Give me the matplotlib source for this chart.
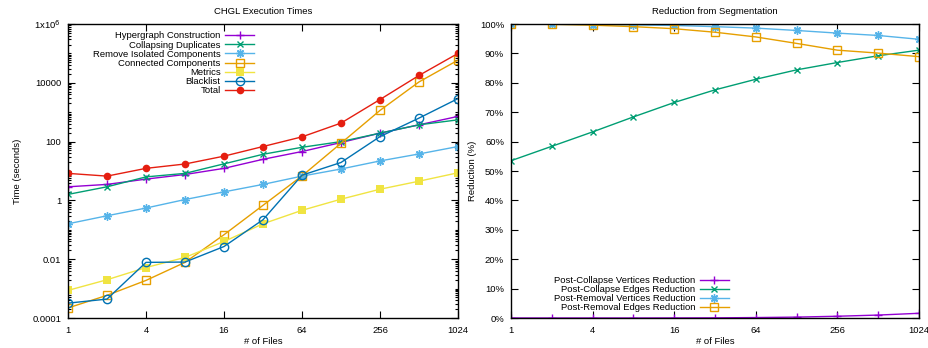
import matplotlib
matplotlib.use("Agg")
import matplotlib.pyplot as plt
import matplotlib.ticker as mticker
import numpy as np

plt.rcParams['font.family'] = ['Liberation Sans', 'DejaVu Sans']

files = [1, 2, 4, 8, 16, 32, 64, 128, 256, 512, 1024]
x_ticks = [1, 4, 16, 64, 256, 1024]
x_ticklabels = ["1", "4", "16", "64", "256", "1024"]

# Left panel: execution times (seconds)
hypergraph = [2.9, 3.5, 5.3, 7.6, 12.3, 25, 46, 93, 194, 372, 720]
collapsing = [1.6, 2.9, 6.3, 8.3, 17.5, 37, 64, 100, 194, 372, 550]
remove_isolated = [0.16, 0.30, 0.55, 1.07, 1.95, 3.5, 6.7, 11.7, 22, 38, 68]
connected = [0.00022, 0.00059, 0.0019, 0.0078, 0.068, 0.68, 6.8, 88, 1150, 10700, 59000]
metrics = [0.00087, 0.002, 0.0052, 0.0115, 0.04, 0.16, 0.46, 1.1, 2.4, 4.5, 8.7]
blacklist = [0.00032, 0.00044, 0.0078, 0.0080, 0.027, 0.22, 7.2, 19.5, 148, 630, 2900]
total = [8.3, 6.7, 12.3, 17.3, 32, 68, 145, 426, 2700, 17800, 100000]

left_y_ticks = [1e-4, 1e-2, 1, 1e2, 1e4, 1e6]
left_y_ticklabels = ["0.0001", "0.01", "1", "100", "10000", "1x10$^6$"]

# Right panel: reduction (%)
pc_vertices = [0.0, 0.0, 0.0, 0.0, 0.02, 0.05, 0.15, 0.3, 0.6, 1.0, 1.6]
pc_edges = [53.5, 58.4, 63.3, 68.4, 73.3, 77.6, 81.2, 84.4, 86.9, 89.2, 91.1]
pr_vertices = [100.0, 99.9, 99.8, 99.7, 99.5, 99.1, 98.6, 97.8, 96.9, 96.1, 94.8]
pr_edges = [100.0, 99.9, 99.6, 99.1, 98.4, 97.2, 95.6, 93.4, 91.1, 90.1, 88.9]

right_y_ticks = list(range(0, 101, 10))
right_y_ticklabels = [f"{v}%" for v in right_y_ticks]

C_PURPLE = "#9400d3"
C_GREEN = "#009e73"
C_LBLUE = "#56b4e9"
C_ORANGE = "#e69f00"
C_YELLOW = "#f0e442"
C_BLUE = "#0072b2"
C_RED = "#e51e10"

STAR = (8, 2, 0)
FS = 6.8

fig = plt.figure(figsize=(9.29, 3.48), dpi=100)
ax1 = fig.add_axes([68/929, 1-318/348, (458-68)/929, (318-24)/348])
ax2 = fig.add_axes([511/929, 1-318/348, (919-511)/929, (318-24)/348])

lw = 1.0
ms = 6
ax1.plot(files, hypergraph, color=C_PURPLE, marker='+', lw=lw, ms=ms, mew=1, label="Hypergraph Construction")
ax1.plot(files, collapsing, color=C_GREEN, marker='x', lw=lw, ms=ms-1, mew=1, label="Collapsing Duplicates")
ax1.plot(files, remove_isolated, color=C_LBLUE, marker=STAR, lw=lw, ms=ms, mew=1, label="Remove Isolated Components")
ax1.plot(files, connected, color=C_ORANGE, marker='s', mfc='none', lw=lw, ms=ms, mew=1, label="Connected Components")
ax1.plot(files, metrics, color=C_YELLOW, marker='s', lw=lw, ms=ms-0.5, mew=0, label="Metrics")
ax1.plot(files, blacklist, color=C_BLUE, marker='o', mfc='none', lw=lw, ms=ms, mew=1, label="Blacklist")
ax1.plot(files, total, color=C_RED, marker='o', lw=lw, ms=ms-0.5, mew=0, label="Total")

ax1.set_xscale('log', base=2)
ax1.set_yscale('log')
ax1.set_xlim(1, 1024)
ax1.set_ylim(1e-4, 1e6)
ax1.set_xticks(x_ticks)
ax1.set_xticklabels(x_ticklabels)
ax1.xaxis.set_minor_locator(mticker.NullLocator())
ax1.set_yticks(left_y_ticks)
ax1.set_yticklabels(left_y_ticklabels)
minor = [m * 10.0**k for k in range(-4, 6) for m in range(1, 10)
         if not (m == 1 and k % 2 == 0)]
ax1.yaxis.set_minor_locator(mticker.FixedLocator(minor))
ax1.yaxis.set_minor_formatter(mticker.NullFormatter())
ax1.set_title("CHGL Execution Times", fontsize=FS, pad=7)
ax1.set_xlabel("# of Files", fontsize=FS, labelpad=1.5)
ax1.set_ylabel("Time (seconds)", fontsize=FS, labelpad=7.5)

leg1 = ax1.legend(loc='upper left', bbox_to_anchor=(0.064, 0.975), markerfirst=False, frameon=False,
                  fontsize=FS, handlelength=3.0, handletextpad=0.5, labelspacing=0.02,
                  borderaxespad=0.0, borderpad=0.0)
for t in leg1.get_texts():
    t.set_ha('right')
leg1._legend_box.align = "right"

ax2.plot(files, pc_vertices, color=C_PURPLE, marker='+', lw=lw, ms=ms, mew=1, label="Post-Collapse Vertices Reduction")
ax2.plot(files, pc_edges, color=C_GREEN, marker='x', lw=lw, ms=ms-1, mew=1, label="Post-Collapse Edges Reduction")
ax2.plot(files, pr_vertices, color=C_LBLUE, marker=STAR, lw=lw, ms=ms, mew=1, label="Post-Removal Vertices Reduction")
ax2.plot(files, pr_edges, color=C_ORANGE, marker='s', mfc='none', lw=lw, ms=ms, mew=1, label="Post-Removal Edges Reduction")

ax2.set_xscale('log', base=2)
ax2.set_xlim(1, 1024)
ax2.set_ylim(0, 100)
ax2.set_xticks(x_ticks)
ax2.set_xticklabels(x_ticklabels)
ax2.xaxis.set_minor_locator(mticker.NullLocator())
ax2.set_yticks(right_y_ticks)
ax2.set_yticklabels(right_y_ticklabels)
ax2.set_title("Reduction from Segmentation", fontsize=FS, pad=7)
ax2.set_xlabel("# of Files", fontsize=FS, labelpad=1.5)
ax2.set_ylabel("Reduction (%)", fontsize=FS, labelpad=2.0)

leg2 = ax2.legend(loc='lower left', bbox_to_anchor=(0.105, 0.019), markerfirst=False, frameon=False,
                  fontsize=FS, handlelength=3.0, handletextpad=0.5, labelspacing=0.02,
                  borderaxespad=0.0, borderpad=0.0)
for t in leg2.get_texts():
    t.set_ha('right')
leg2._legend_box.align = "right"

for ax in (ax1, ax2):
    for s in ax.spines.values():
        s.set_linewidth(1.0)
        s.set_color('black')
    ax.tick_params(which='both', direction='in', top=True, right=True, labelsize=FS, width=0.8)
    ax.tick_params(axis='x', which='both', pad=6)
    ax.tick_params(axis='y', which='both', pad=5)
    ax.tick_params(which='major', length=5)
    ax.tick_params(which='minor', length=2.5)

fig.savefig("out.png", dpi=100)
